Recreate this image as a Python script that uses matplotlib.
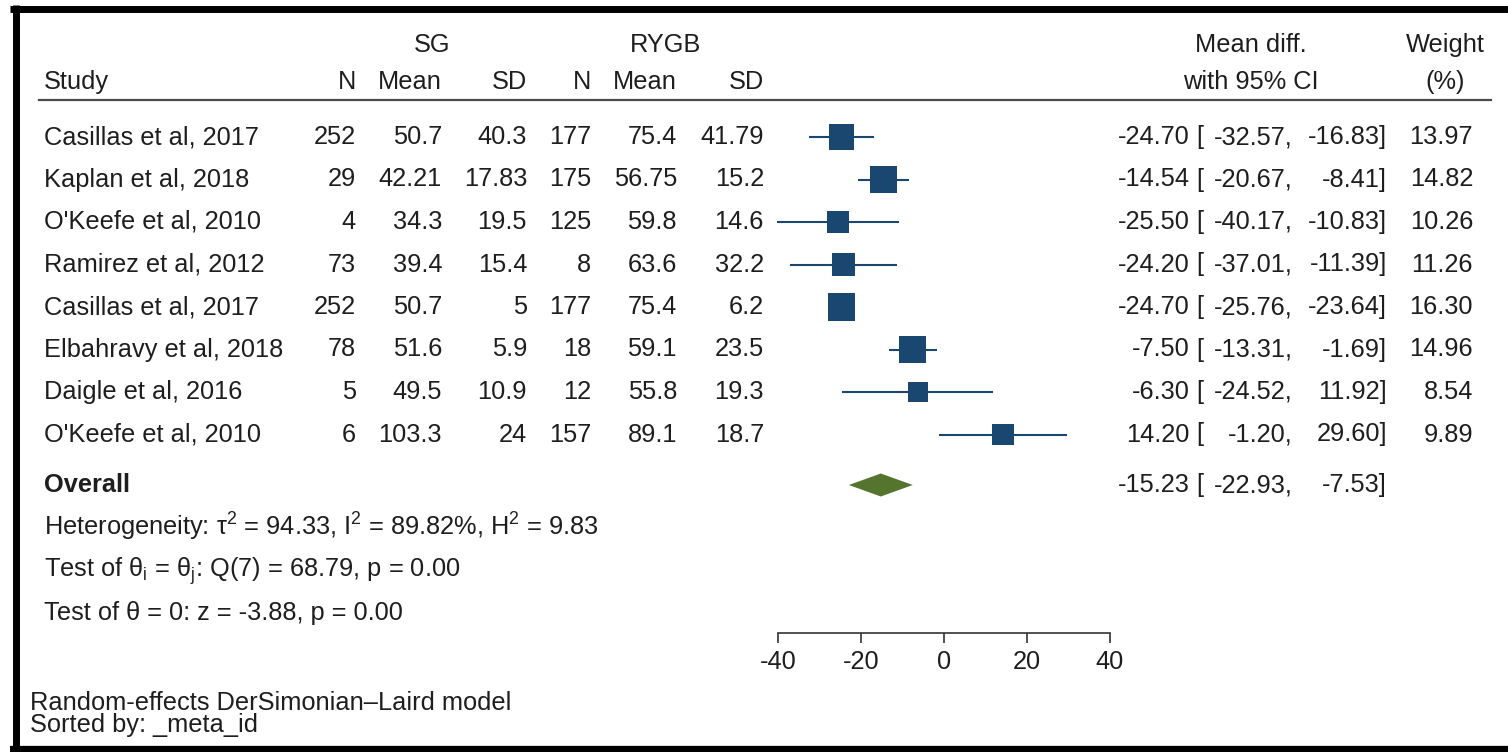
import numpy as np
import matplotlib
matplotlib.use("Agg")
import matplotlib.pyplot as plt
from matplotlib.lines import Line2D

plt.rcParams['font.family'] = ['Liberation Sans', 'DejaVu Sans']
plt.rcParams['mathtext.fontset'] = 'custom'
plt.rcParams['mathtext.rm'] = 'Liberation Sans'
plt.rcParams['mathtext.it'] = 'Liberation Sans:italic'
plt.rcParams['mathtext.bf'] = 'Liberation Sans:bold'
plt.rcParams['axes.unicode_minus'] = False

# study level data
studies = ["Casillas et al, 2017", "Kaplan et al, 2018", "O'Keefe et al, 2010",
           "Ramirez et al, 2012", "Casillas et al, 2017", "Elbahravy et al, 2018",
           "Daigle et al, 2016", "O'Keefe et al, 2010"]
sg_n = ["252", "29", "4", "73", "252", "78", "5", "6"]
sg_mean = ["50.7", "42.21", "34.3", "39.4", "50.7", "51.6", "49.5", "103.3"]
sg_sd = ["40.3", "17.83", "19.5", "15.4", "5", "5.9", "10.9", "24"]
rygb_n = ["177", "175", "125", "8", "177", "18", "12", "157"]
rygb_mean = ["75.4", "56.75", "59.8", "63.6", "75.4", "59.1", "55.8", "89.1"]
rygb_sd = ["41.79", "15.2", "14.6", "32.2", "6.2", "23.5", "19.3", "18.7"]
md = [-24.70, -14.54, -25.50, -24.20, -24.70, -7.50, -6.30, 14.20]
ci_lo = [-32.57, -20.67, -40.17, -37.01, -25.76, -13.31, -24.52, -1.20]
ci_hi = [-16.83, -8.41, -10.83, -11.39, -23.64, -1.69, 11.92, 29.60]
weight = [13.97, 14.82, 10.26, 11.26, 16.30, 14.96, 8.54, 9.89]

overall_md = -15.23
overall_lo = -22.93
overall_hi = -7.53

het_text = (r"Heterogeneity: τ$^{2}$ = 94.33, I$^{2}$ = 89.82%, H$^{2}$ = 9.83")
q_text = r"Test of θ$_{\mathregular{i}}$ = θ$_{\mathregular{j}}$: Q(7) = 68.79, p = 0.00"
z_text = "Test of θ = 0: z = -3.88, p = 0.00"
notes = ["Random-effects DerSimonian\u2013Laird model", "Sorted by: _meta_id"]
xticks = [-40, -20, 0, 20, 40]

W, H = 1508, 752
NAVY = '#1a476f'
GREEN = '#55752f'
TXT = '#1e1e1e'
FS = 18.3

fig = plt.figure(figsize=(W / 100, H / 100), dpi=100)
fig.patch.set_facecolor('white')

# layout axes in pixel units for the table part
ax = fig.add_axes([0, 0, 1, 1])
ax.set_xlim(0, W)
ax.set_ylim(H, 0)
ax.axis('off')

row_y = 137 + 42.5 * np.arange(len(studies))
overall_y = 485
hdr1_y, hdr2_y = 45, 82

# frame
ax.add_line(Line2D([10, W], [8.5, 8.5], color='black', lw=5.0, solid_capstyle='butt'))
ax.add_line(Line2D([16, 16], [5, H], color='black', lw=5.0, solid_capstyle='butt'))
ax.add_line(Line2D([10, W], [749, 749], color='black', lw=4.5, solid_capstyle='butt'))

# header
ax.add_line(Line2D([39, 1491], [100, 100], color='#4a4a4a', lw=1.6))
col_right = [356, 442, 527, 591, 677, 764]
col_names = ["N", "Mean", "SD", "N", "Mean", "SD"]
ax.text(44, hdr2_y, "Study", fontsize=FS, color=TXT, ha='left', va='center')
for xr, name in zip(col_right, col_names):
    ax.text(xr, hdr2_y, name, fontsize=FS, color=TXT, ha='right', va='center')
ax.text(432, hdr1_y, "SG", fontsize=FS, color=TXT, ha='center', va='center')
ax.text(665, hdr1_y, "RYGB", fontsize=FS, color=TXT, ha='center', va='center')
ax.text(1251, hdr1_y, "Mean diff.", fontsize=FS, color=TXT, ha='center', va='center')
ax.text(1251, hdr2_y, "with 95% CI", fontsize=FS, color=TXT, ha='center', va='center')
ax.text(1445, hdr1_y, "Weight", fontsize=FS, color=TXT, ha='center', va='center')
ax.text(1445, hdr2_y, "(%)", fontsize=FS, color=TXT, ha='center', va='center')


def ci_cells(y, est, lo, hi):
    ax.text(1190, y, f"{est:.2f}", fontsize=FS, color=TXT, ha='right', va='center')
    ax.text(1196, y, "[", fontsize=FS, color=TXT, ha='left', va='center')
    ax.text(1293, y, f"{lo:.2f},", fontsize=FS, color=TXT, ha='right', va='center')
    ax.text(1387, y, f"{hi:.2f}]", fontsize=FS, color=TXT, ha='right', va='center')


# study rows
for i, y in enumerate(row_y):
    ax.text(44, y, studies[i], fontsize=FS, color=TXT, ha='left', va='center')
    cells = [sg_n[i], sg_mean[i], sg_sd[i], rygb_n[i], rygb_mean[i], rygb_sd[i]]
    for xr, c in zip(col_right, cells):
        ax.text(xr, y, c, fontsize=FS, color=TXT, ha='right', va='center')
    ci_cells(y, md[i], ci_lo[i], ci_hi[i])
    ax.text(1473, y, f"{weight[i]:.2f}", fontsize=FS, color=TXT, ha='right', va='center')

ax.text(44, overall_y, "Overall", fontsize=FS, color=TXT, ha='left', va='center',
        fontweight='bold')
ci_cells(overall_y, overall_md, overall_lo, overall_hi)
ax.text(44, 527, het_text, fontsize=FS, color=TXT, ha='left', va='center')
ax.text(44, 571, q_text, fontsize=FS, color=TXT, ha='left', va='center')
ax.text(44, 613, z_text, fontsize=FS, color=TXT, ha='left', va='center')
ax.text(30, 703, notes[0], fontsize=FS, color=TXT, ha='left', va='center')
ax.text(30, 725, notes[1], fontsize=FS, color=TXT, ha='left', va='center')

# forest plot axes: x is the mean difference scale
fx0, fx1 = 778, 1110
fax = fig.add_axes([fx0 / W, 0, (fx1 - fx0) / W, 1])
fax.set_xlim(-40, 40)
fax.set_ylim(H, 0)
fax.patch.set_alpha(0)
for s in ['top', 'left', 'right']:
    fax.spines[s].set_visible(False)
fax.spines['bottom'].set_position(('data', 633))
fax.spines['bottom'].set_bounds(-40, 40)
fax.spines['bottom'].set_color('#333333')
fax.spines['bottom'].set_linewidth(1.2)
fax.set_yticks([])
fax.set_xticks(xticks)
fax.set_xticklabels([str(t) for t in xticks])
fax.tick_params(axis='x', direction='out', length=7, width=1.2, color='#333333',
                labelsize=FS, labelcolor=TXT, pad=5)

fax.hlines(row_y, ci_lo, ci_hi, color=NAVY, lw=1.5, clip_on=False)
side_px = 6.93 * np.sqrt(np.array(weight))
fax.scatter(md, row_y, marker='s', s=(side_px * 0.72) ** 2, color=NAVY,
            edgecolors='none', zorder=3, clip_on=False)

# pooled estimate diamond
dh = 11.5
fax.fill([overall_lo, overall_md, overall_hi, overall_md],
         [overall_y, overall_y - dh, overall_y, overall_y + dh],
         color=GREEN, lw=0, clip_on=False)

fig.savefig("out.png", dpi=100, facecolor='white')
